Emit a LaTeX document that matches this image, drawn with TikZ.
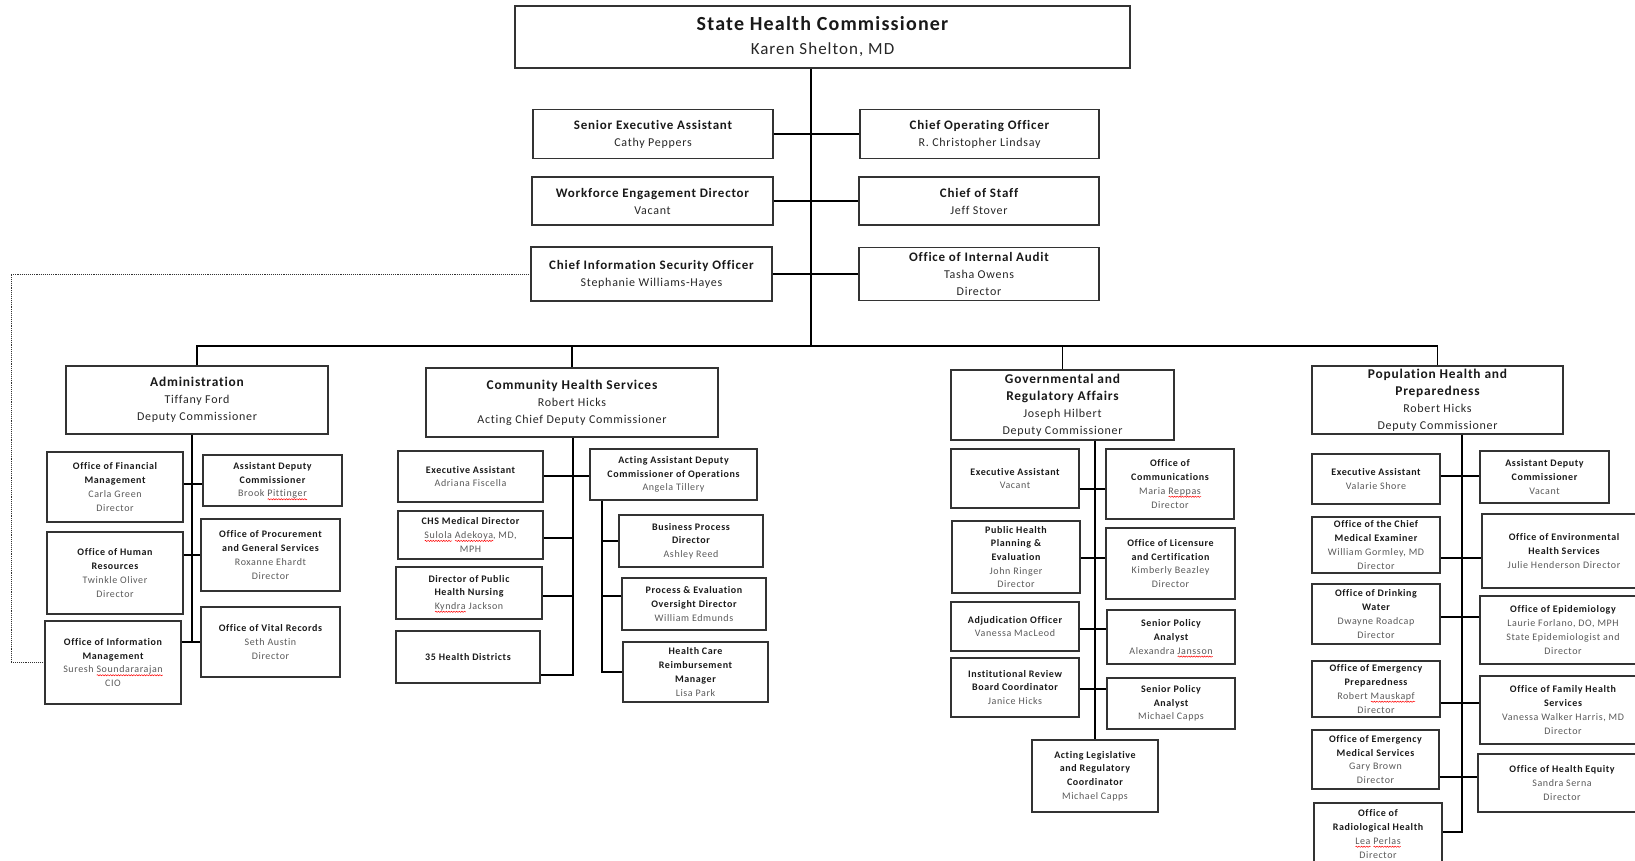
\documentclass[tikz,border=0pt]{standalone}
\usepackage{fontspec}
\setmainfont{Carlito}[LetterSpace=6, Ligatures=CommonOff]
\usetikzlibrary{decorations.pathmorphing}
\newsavebox\spellbox
\let\hdsize\relax
\newcommand{\hd}[1]{\textcolor{black!90}{\hdsize\bfseries #1}}
\newcommand{\spell}[1]{\sbox\spellbox{#1}\rlap{\smash{\tikz[baseline=0pt]\draw[red, line width=0.5pt, decorate, decoration={snake, amplitude=0.6pt, segment length=2.6pt}] (0pt,-2.4pt) -- (\wd\spellbox,-2.4pt);}}\usebox\spellbox}

\begin{document}
\begin{tikzpicture}[x=1pt, y=-1pt,
    box/.style={draw=black!80, line width=1.1pt, align=center, inner sep=1pt},
    wh/.style 2 args={minimum width=#1pt, minimum height=#2pt},
    topbox/.style={box, text=black!85, font=\fontsize{17}{24}\selectfont\def\hdsize{\fontsize{20}{24}\selectfont}},
    rowbox/.style={box, text=black!85, font=\fontsize{12}{17}\selectfont\def\hdsize{\fontsize{13}{17}\selectfont}},
    deptbox/.style={box, text=black!85, font=\fontsize{12}{17}\selectfont\def\hdsize{\fontsize{13.4}{17}\selectfont}},
    subbox/.style={box, text=black!65, font=\fontsize{10}{13.7}\selectfont},
    link/.style={draw=black, line width=1.1pt},
    dotlink/.style={draw=black!80, line width=0.9pt, densely dotted}]

    \useasboundingbox (0,0) rectangle (1635,861);
    \clip (0,0) rectangle (1635,861);

    % Commissioner
    \node[topbox, wh={615}{62}] (top) at (822.5,37) {\hd{State Health Commissioner}\\Karen Shelton, MD};

    % Staff offices
    \node[rowbox, wh={240}{49}] (sea) at (653,134) {\hd{Senior Executive Assistant}\\Cathy Peppers};
    \node[rowbox, wh={239}{49}] (coo) at (979.5,134) {\hd{Chief Operating Officer}\\R. Christopher Lindsay};
    \node[rowbox, wh={241}{48}] (wed) at (652.5,201) {\hd{Workforce Engagement Director}\\Vacant};
    \node[rowbox, wh={240}{48}] (cos) at (979,201) {\hd{Chief of Staff}\\Jeff Stover};
    \node[rowbox, wh={241}{54}] (ciso) at (651.5,274) {\hd{Chief Information Security Officer}\\Stephanie Williams-Hayes};
    \node[rowbox, wh={240}{53}] (audit) at (979,274) {\hd{Office of Internal Audit}\\Tasha Owens\\Director};

    % Deputy commissioners
    \node[deptbox, wh={262}{68}] (admin) at (197,400) {\hd{Administration}\\Tiffany Ford\\Deputy Commissioner};
    \node[deptbox, wh={292}{69}] (chs) at (572,402.5) {\hd{Community Health Services}\\Robert Hicks\\Acting Chief Deputy Commissioner};
    \node[deptbox, wh={223}{70}] (gov) at (1062.5,405) {\hd{Governmental and}\\\hd{Regulatory Affairs}\\Joseph Hilbert\\Deputy Commissioner};
    \node[deptbox, wh={251}{68}] (pop) at (1437.5,400) {\hd{Population Health and}\\\hd{Preparedness}\\Robert Hicks\\Deputy Commissioner};

    % Administration offices
    \node[subbox, wh={136}{70}] (fm) at (115,487) {\hd{Office of Financial}\\\hd{Management}\\Carla Green\\Director};
    \node[subbox, wh={139}{51}] (adc) at (272.5,480.5) {\hd{Assistant Deputy}\\\hd{Commissioner}\\Brook \spell{Pittinger}};
    \node[subbox, wh={136}{82}] (hr) at (115,573) {\hd{Office of Human}\\\hd{Resources}\\Twinkle Oliver\\Director};
    \node[subbox, wh={139}{72}] (proc) at (270.5,555) {\hd{Office of Procurement}\\\hd{and General Services}\\Roxanne Ehardt\\Director};
    \node[subbox, wh={136}{83}] (oim) at (113,662.5) {\hd{Office of Information}\\\hd{Management}\\Suresh \spell{Soundararajan}\\CIO};
    \node[subbox, wh={139}{70}] (vr) at (270.5,642) {\hd{Office of Vital Records}\\Seth Austin\\Director};

    % Community Health Services offices
    \node[subbox, wh={145}{51}] (chsea) at (470.5,476.5) {\hd{Executive Assistant}\\Adriana Fiscella};
    \node[subbox, wh={167}{51}] (adco) at (673.5,474.5) {\hd{Acting Assistant Deputy}\\\hd{Commissioner of Operations}\\Angela Tillery};
    \node[subbox, wh={145}{48}] (cmd) at (470.5,535) {\hd{CHS Medical Director}\\\spell{Sulola} \spell{Adekoya}, MD,\\MPH};
    \node[subbox, wh={146}{52}] (dphn) at (469,593) {\hd{Director of Public}\\\hd{Health Nursing}\\\spell{Kyndra} Jackson};
    \node[subbox, wh={144}{52}] (hd) at (468,657) {\hd{35 Health Districts}};
    \node[subbox, wh={144}{52}] (bpd) at (691,541) {\hd{Business Process}\\\hd{Director}\\Ashley Reed};
    \node[subbox, wh={144}{52}] (ped) at (694,604) {\hd{Process \& Evaluation}\\\hd{Oversight Director}\\William Edmunds};
    \node[subbox, wh={145}{60}] (hcrm) at (695.5,672) {\hd{Health Care}\\\hd{Reimbursement}\\\hd{Manager}\\Lisa Park};

    % Governmental and Regulatory Affairs offices
    \node[subbox, wh={128}{59}] (gea) at (1015,478.5) {\hd{Executive Assistant}\\Vacant};
    \node[subbox, wh={128}{70}] (comm) at (1170,484) {\hd{Office of}\\\hd{Communications}\\Maria \spell{Reppas}\\Director};
    \node[subbox, wh={128}{72}] (phpe) at (1016,557) {\hd{Public Health}\\\hd{Planning \&}\\\hd{Evaluation}\\John Ringer\\Director};
    \node[subbox, wh={129}{71}] (olc) at (1170.5,563.5) {\hd{Office of Licensure}\\\hd{and Certification}\\Kimberly Beazley\\Director};
    \node[subbox, wh={128}{49}] (adj) at (1015,626.5) {\hd{Adjudication Officer}\\Vanessa MacLeod};
    \node[subbox, wh={128}{54}] (spa1) at (1171,637) {\hd{Senior Policy}\\\hd{Analyst}\\Alexandra \spell{Jansson}};
    \node[subbox, wh={128}{59}] (irb) at (1015,687.5) {\hd{Institutional Review}\\\hd{Board Coordinator}\\Janice Hicks};
    \node[subbox, wh={128}{51}] (spa2) at (1171,703.5) {\hd{Senior Policy}\\\hd{Analyst}\\Michael Capps};
    \node[subbox, wh={126}{72}] (alrc) at (1095,776) {\hd{Acting Legislative}\\\hd{and Regulatory}\\\hd{Coordinator}\\Michael Capps};

    % Population Health and Preparedness offices
    \node[subbox, wh={128}{50}] (pea) at (1376,479) {\hd{Executive Assistant}\\Valarie Shore};
    \node[subbox, wh={129}{52}] (padc) at (1544.5,477) {\hd{Assistant Deputy}\\\hd{Commissioner}\\Vacant};
    \node[subbox, wh={128}{56}] (ocme) at (1376,545) {\hd{Office of the Chief}\\\hd{Medical Examiner}\\William Gormley, MD\\Director};
    \node[subbox, wh={164}{74}] (oehs) at (1564,551) {\hd{Office of Environmental}\\\hd{Health Services}\\Julie Henderson Director};
    \node[subbox, wh={128}{60}] (odw) at (1376,614) {\hd{Office of Drinking}\\\hd{Water}\\Dwayne Roadcap\\Director};
    \node[subbox, wh={166}{68}] (oepi) at (1563,630) {\hd{Office of Epidemiology}\\Laurie Forlano, DO, MPH\\State Epidemiologist and\\Director};
    \node[subbox, wh={128}{56}] (oep) at (1376,689) {\hd{Office of Emergency}\\\hd{Preparedness}\\Robert \spell{Mauskapf}\\Director};
    \node[subbox, wh={166}{68}] (ofhs) at (1563,710) {\hd{Office of Family Health}\\\hd{Services}\\Vanessa Walker Harris, MD\\Director};
    \node[subbox, wh={127}{59}] (oems) at (1375.5,759.5) {\hd{Office of Emergency}\\\hd{Medical Services}\\Gary Brown\\Director};
    \node[subbox, wh={168}{58}] (ohe) at (1562,783) {\hd{Office of Health Equity}\\Sandra Serna\\Director};
    \node[subbox, wh={128}{62}] (orh) at (1378,834) {\hd{Office of}\\\hd{Radiological Health}\\\spell{Lea} \spell{Perlas}\\Director};

    % Main trunk and staff links
    \coordinate (bus) at (811,346);
    \draw[link] (top.south -| bus) -- (bus);
    \draw[link] (sea) -- (coo);
    \draw[link] (wed) -- (cos);
    \draw[link] (ciso) -- (audit);
    \draw[link] (admin.north) |- (bus) -| (pop.north);
    \draw[link] (chs.north) -- (chs.north |- bus);
    \draw[link] (gov.north) -- (gov.north |- bus);

    % Dotted reporting line
    \coordinate (dotbend) at (11,274);
    \draw[dotlink] (ciso.west) -- (dotbend) |- (oim.west);

    % Administration links
    \coordinate (adminend) at (192,642);
    \draw[link] (admin.south -| adminend) -- (adminend);
    \draw[link] (fm.east |- 0,484) -- (adc.west |- 0,484);
    \draw[link] (hr.east |- 0,555) -- (proc.west |- 0,555);
    \draw[link] (oim.east |- adminend) -- (vr.west |- adminend);

    % Community Health Services links
    \coordinate (chsend) at (573,675);
    \draw[link] (chs.south -| chsend) -- (chsend) -- (chsend -| hd.east);
    \draw[link] (chsea.east |- 0,476) -- (adco.west |- 0,476);
    \draw[link] (cmd.east |- 0,538) -- (chsend |- 0,538);
    \draw[link] (dphn.east |- 0,596) -- (chsend |- 0,596);
    \coordinate (opsend) at (602,672);
    \draw[link] (adco.south -| opsend) -- (opsend) -- (opsend -| hcrm.west);
    \draw[link] (bpd.west) -- (bpd.west -| opsend);
    \draw[link] (ped.west |- 0,596) -- (opsend |- 0,596);

    % Governmental and Regulatory Affairs links
    \draw[link] (gov.south -| alrc.north) -- (alrc.north);
    \draw[link] (gea.east |- 0,489) -- (comm.west |- 0,489);
    \draw[link] (phpe.east |- 0,558) -- (olc.west |- 0,558);
    \draw[link] (adj.east |- 0,629) -- (spa1.west |- 0,629);
    \draw[link] (irb.east |- 0,689) -- (spa2.west |- 0,689);

    % Population Health and Preparedness links
    \coordinate (popend) at (1462,832);
    \draw[link] (pop.south -| popend) -- (popend) -- (popend -| orh.east);
    \draw[link] (pea.east |- 0,476) -- (padc.west |- 0,476);
    \draw[link] (ocme.east |- 0,558) -- (oehs.west |- 0,558);
    \draw[link] (odw.east |- 0,617) -- (oepi.west |- 0,617);
    \draw[link] (oep.east |- 0,703) -- (ofhs.west |- 0,703);
    \draw[link] (oems.east |- 0,777) -- (ohe.west |- 0,777);

\end{tikzpicture}
\end{document}
